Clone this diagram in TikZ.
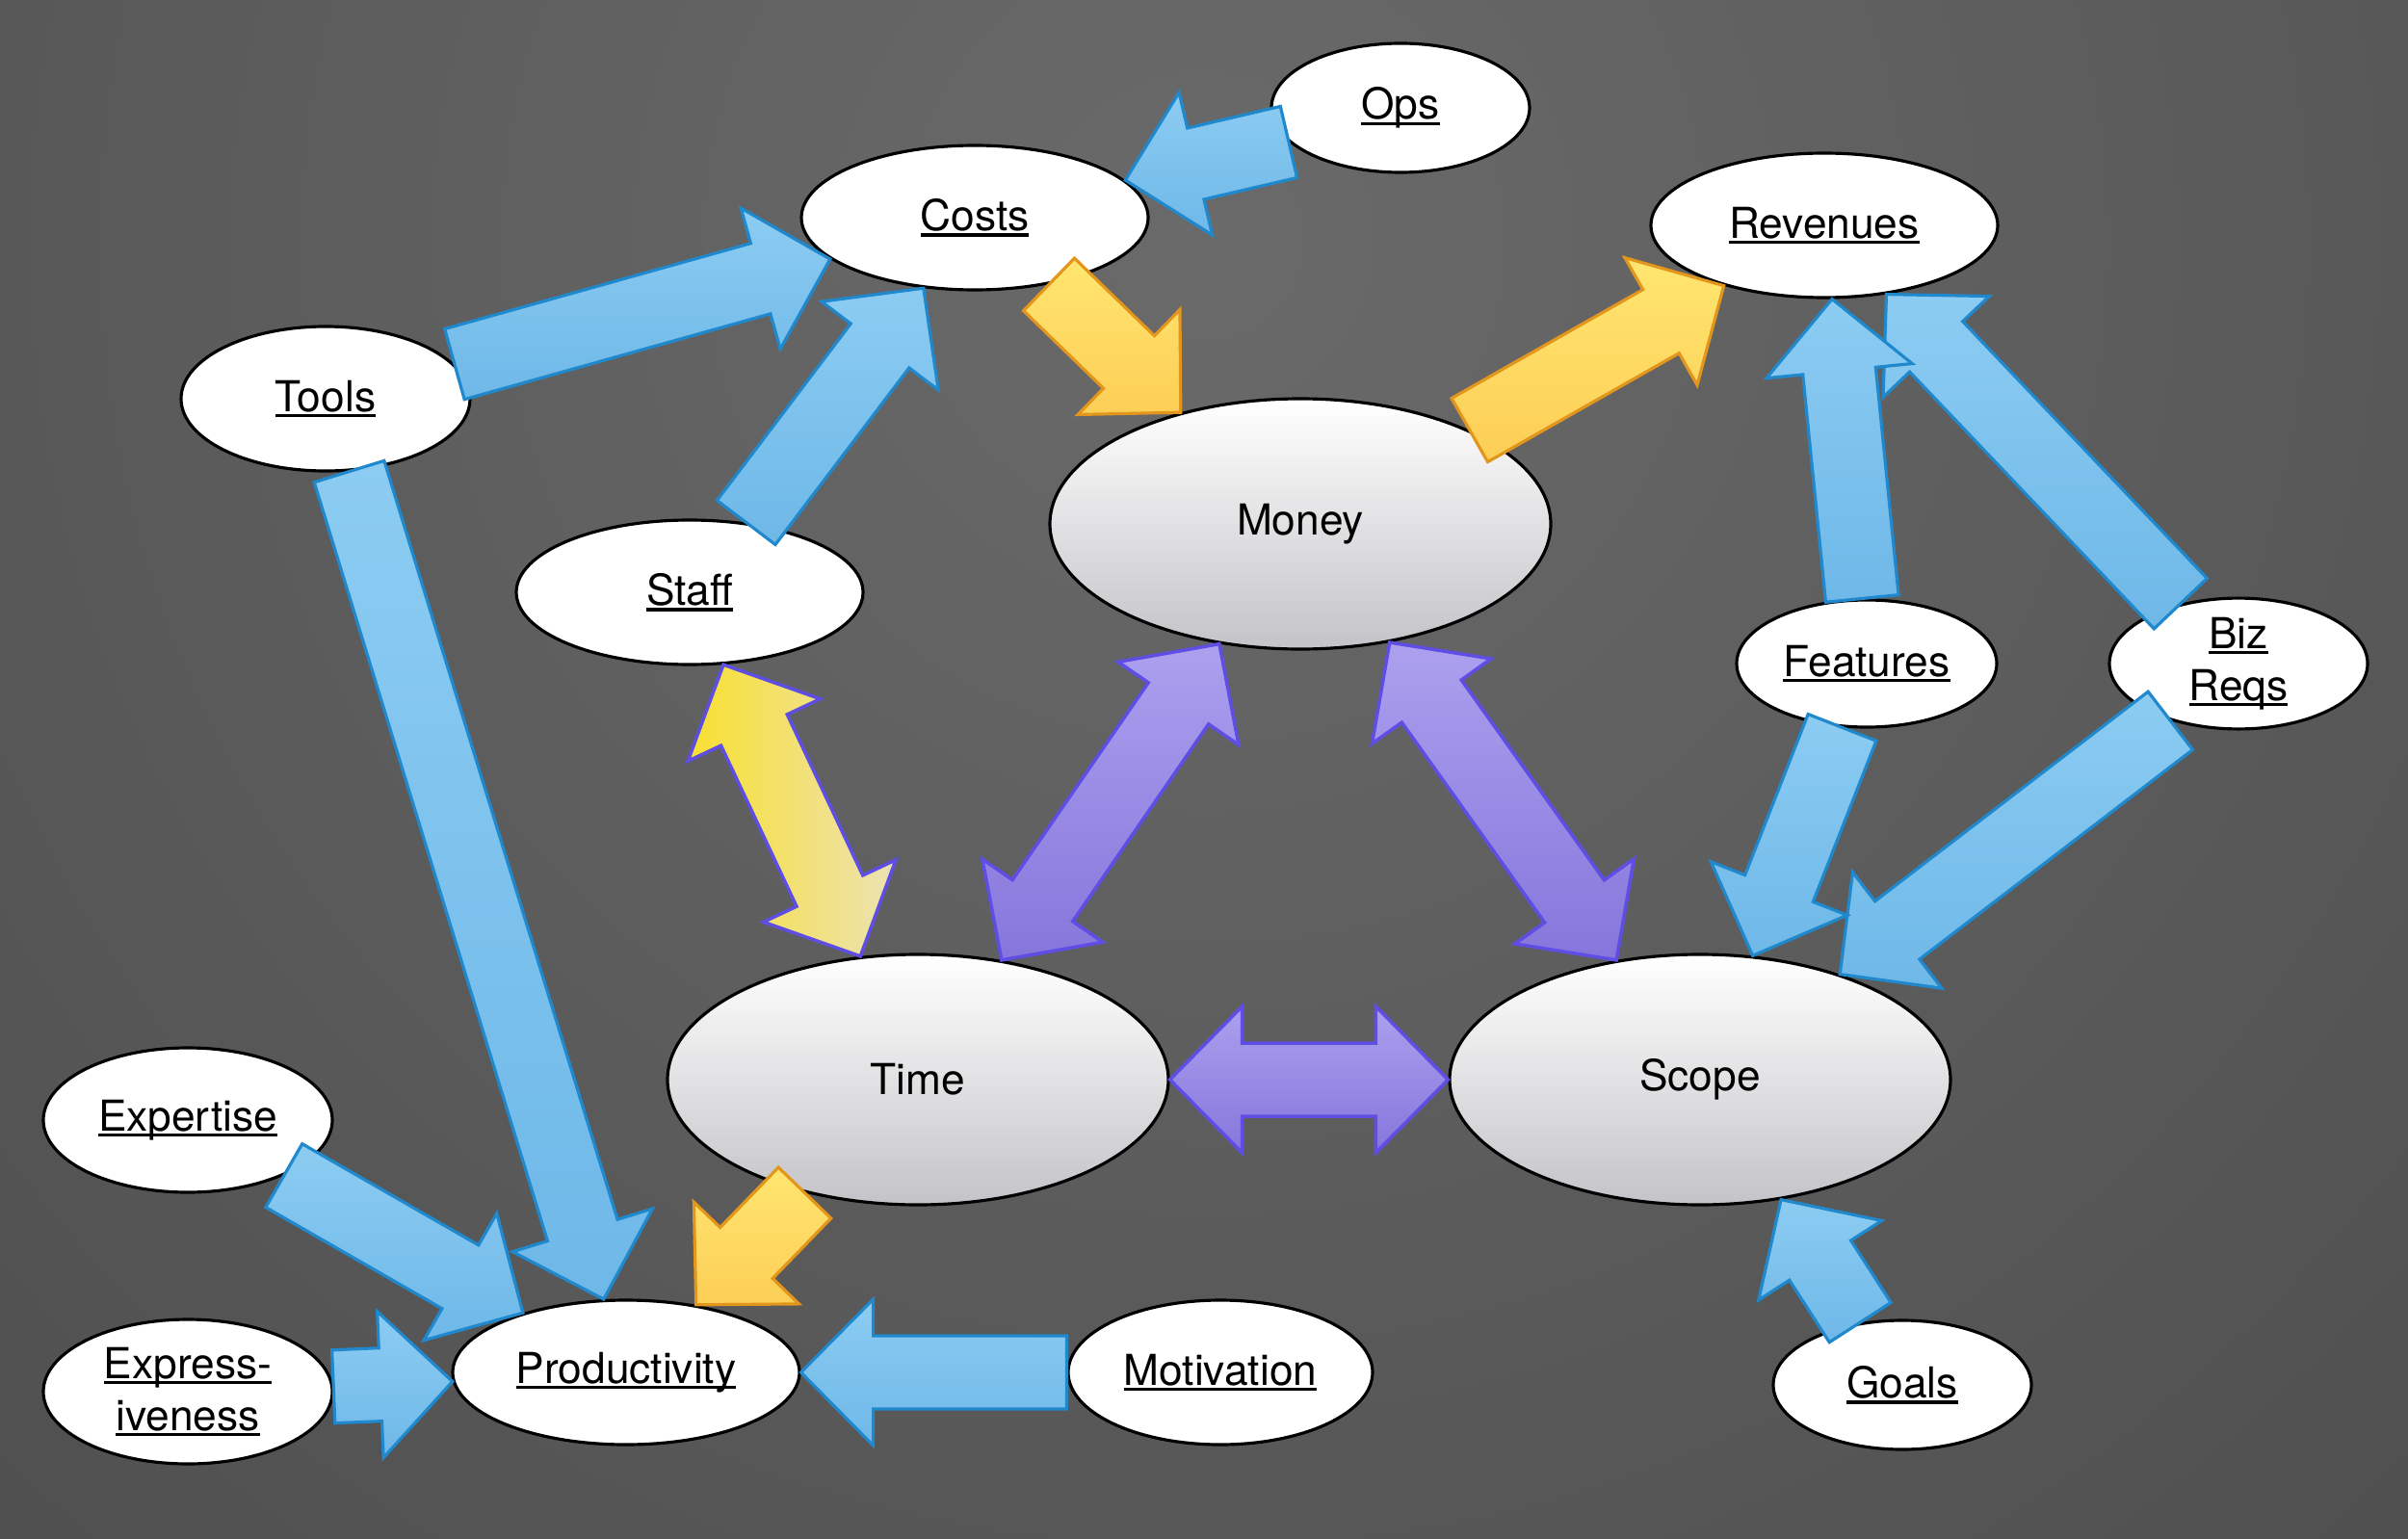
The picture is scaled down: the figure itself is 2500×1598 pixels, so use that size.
\documentclass[tikz,border=0pt]{standalone}
\usepackage{fontspec}
\setmainfont{TeX Gyre Heros}
\usetikzlibrary{shapes.geometric,calc}
\definecolor{bgin}{RGB}{106,106,106}
\definecolor{bgout}{RGB}{60,60,60}
\definecolor{bluetop}{RGB}{140,204,242}
\definecolor{bluebot}{RGB}{110,184,232}
\definecolor{blueline}{RGB}{32,136,204}
\definecolor{goldtop}{RGB}{255,230,112}
\definecolor{goldbot}{RGB}{252,206,86}
\definecolor{goldline}{RGB}{226,150,28}
\definecolor{violettop}{RGB}{172,160,238}
\definecolor{violetbot}{RGB}{134,118,220}
\definecolor{violetline}{RGB}{94,78,228}
\definecolor{lemon}{RGB}{248,224,48}
\definecolor{cream}{RGB}{236,226,180}
\definecolor{bigmid}{RGB}{244,244,246}
\definecolor{bigbot}{RGB}{196,196,200}
\newcommand{\uword}[1]{\setbox0\hbox{#1}\rlap{\rule[-1.7pt]{\wd0}{0.9pt}}\box0}
\newcommand{\arrw}{3.8mm}
\newcommand{\arrh}{7.6mm}
\newcommand{\arrl}{7.5mm}
\newcommand{\blockarrow}[3][]{%
	\path[#1] ($(#2)!\arrw!90:(#3)$) -- ($(#3)!\arrl!(#2)!\arrw!90:(#3)$) -- ($(#3)!\arrl!(#2)!\arrh!90:(#3)$) -- (#3) -- ($(#3)!\arrl!(#2)!\arrh!-90:(#3)$) -- ($(#3)!\arrl!(#2)!\arrw!-90:(#3)$) -- ($(#2)!\arrw!-90:(#3)$) -- cycle;}
\newcommand{\blockdouble}[3][]{%
	\path[#1] (#2) -- ($(#2)!\arrl!(#3)!\arrh!90:(#3)$) -- ($(#2)!\arrl!(#3)!\arrw!90:(#3)$) -- ($(#3)!\arrl!(#2)!\arrw!90:(#3)$) -- ($(#3)!\arrl!(#2)!\arrh!90:(#3)$) -- (#3) -- ($(#3)!\arrl!(#2)!\arrh!-90:(#3)$) -- ($(#3)!\arrl!(#2)!\arrw!-90:(#3)$) -- ($(#2)!\arrl!(#3)!\arrw!-90:(#3)$) -- ($(#2)!\arrl!(#3)!\arrh!-90:(#3)$) -- cycle;}
\tikzset{
	leaf/.style={ellipse, draw=black, line width=0.9pt, fill=white, inner sep=0pt, align=center},
	core/.style={ellipse, draw=black, line width=0.9pt, top color=white, middle color=bigmid, bottom color=bigbot, inner sep=0pt, minimum width=52mm, minimum height=26mm},
	blueblk/.style={draw=blueline, line width=0.9pt, top color=bluetop, bottom color=bluebot},
	goldblk/.style={draw=goldline, line width=0.9pt, top color=goldtop, bottom color=goldbot},
	violetblk/.style={draw=violetline, line width=1pt, top color=violettop, bottom color=violetbot},
	mixblk/.style={draw=violetline, line width=1pt, left color=lemon, right color=cream}
}
\begin{document}
\begin{tikzpicture}[x=0.1mm, y=-0.1mm, font=\fontsize{12.6}{15.4}\selectfont]
	\useasboundingbox (0,0) rectangle (2500,1598);
	\begin{scope}
		\clip (0,0) rectangle (2500,1598);
		\shade[inner color=bgin, outer color=bgout] (1250,250) circle (32cm);
	\end{scope}

	\node[leaf, minimum width=26.8mm, minimum height=13.4mm] (ops) at (1454,112) {\uword{Ops}};
	\node[leaf, minimum width=36mm, minimum height=15mm] (costs) at (1012,226) {\uword{Costs}};
	\node[leaf, minimum width=36mm, minimum height=15mm] (revenues) at (1894,234) {\uword{Revenues}};
	\node[leaf, minimum width=30mm, minimum height=15mm] (tools) at (338,414) {\uword{Tools}};
	\node[leaf, minimum width=36mm, minimum height=15mm] (staff) at (716,615) {\uword{Staff}};
	\node[leaf, minimum width=27mm, minimum height=13.2mm] (features) at (1938,689) {\uword{Features}};
	\node[leaf, minimum width=26.8mm, minimum height=13.4mm] (bizreqs) at (2324,689) {\uword{Biz}\\\uword{Reqs}};
	\node[leaf, minimum width=30mm, minimum height=15mm] (expertise) at (195,1163) {\uword{Expertise}};
	\node[leaf, minimum width=30mm, minimum height=15mm] (expressiveness) at (195,1445) {\uword{Express-}\\\uword{iveness}};
	\node[leaf, minimum width=36mm, minimum height=15mm] (productivity) at (650,1425) {\uword{Productivity}};
	\node[leaf, minimum width=31.6mm, minimum height=15mm] (motivation) at (1267,1425) {\uword{Motivation}};
	\node[leaf, minimum width=26.8mm, minimum height=13.4mm] (goals) at (1975,1438) {\uword{Goals}};
	\node[core] (money) at (1350,544) {Money};
	\node[core] (time) at (953,1121) {Time};
	\node[core] (scope) at (1765,1121) {Scope};

	\blockarrow[blueblk]{ops.197}{costs.14}
	\blockarrow[blueblk]{tools.15}{costs.196}
	\blockarrow[blueblk]{staff.51}{costs.234}
	\blockarrow[goldblk]{costs.318}{money.137}
	\blockarrow[goldblk]{money.29}{revenues.211}
	\blockarrow[blueblk]{expertise.330}{productivity.150}
	\blockarrow[blueblk]{tools.288}{productivity.107}
	\blockarrow[blueblk]{expressiveness.2}{productivity.183}
	\blockarrow[goldblk]{time.225}{productivity.44}
	\blockarrow[blueblk]{motivation.180}{productivity.0}
	\blockarrow[blueblk]{goals.124}{scope.304}
	\blockarrow[blueblk]{bizreqs.134}{revenues.312}
	\blockarrow[blueblk]{features.94}{revenues.276}
	\blockarrow[blueblk]{bizreqs.220}{scope.37}
	\blockarrow[blueblk]{features.249}{scope.67}
	\blockdouble[violetblk]{time.0}{scope.180}
	\blockdouble[violetblk]{money.236}{time.55}
	\blockdouble[violetblk]{money.307}{scope.125}
	\blockdouble[mixblk]{staff.295}{time.115}
\end{tikzpicture}
\end{document}
